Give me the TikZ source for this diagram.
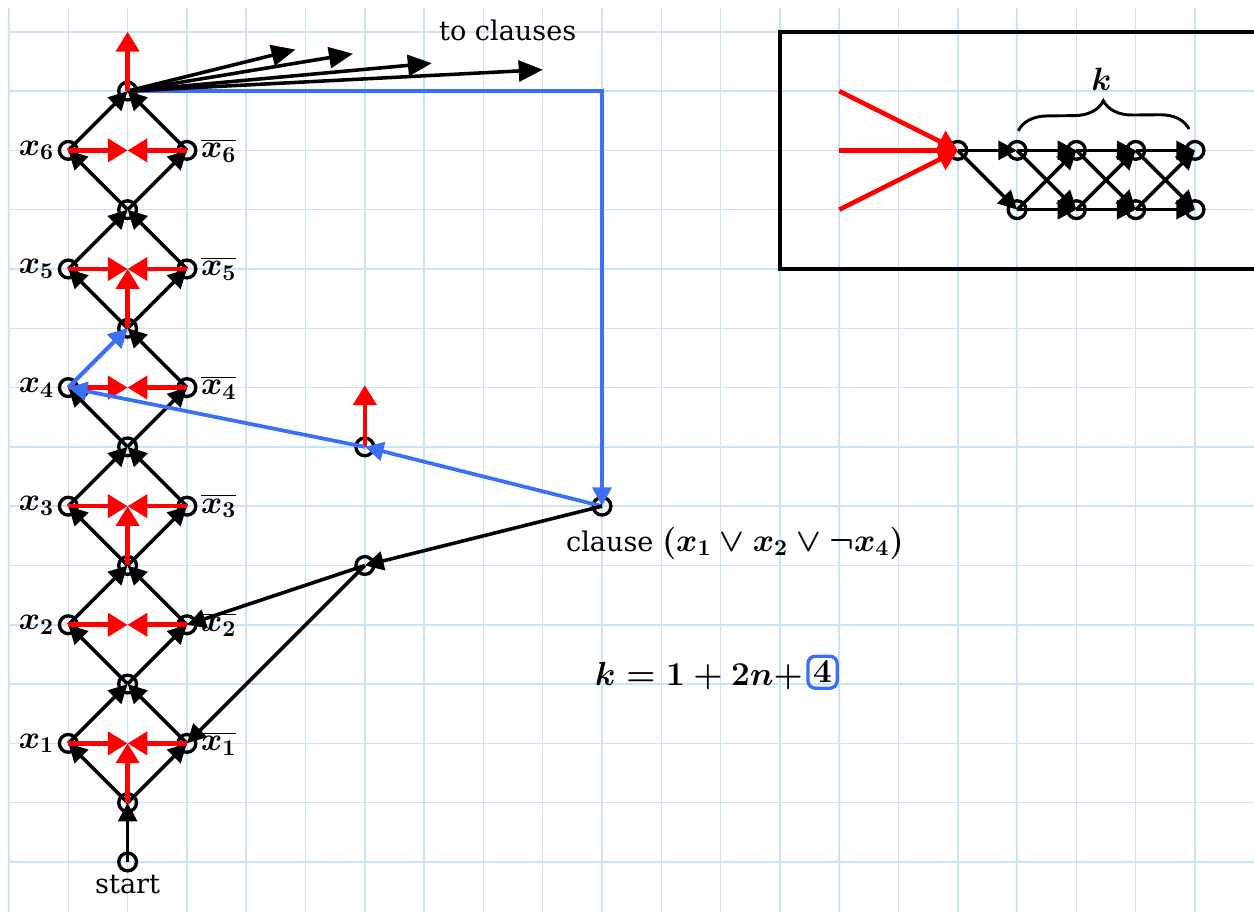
\documentclass[tikz,border=0pt]{standalone}
\usepackage{fix-cm}
\usepackage{fontspec}
\setmainfont{DejaVu Serif}
\usetikzlibrary{arrows.meta,decorations.pathreplacing}
\definecolor{blu}{RGB}{58,112,247}
\definecolor{gridc}{RGB}{200,228,245}
\tikzset{
 v/.style={circle,draw,line width=1.6pt,minimum size=0.3cm,inner sep=0pt},
 bl/.style={line width=1.7pt,-{Triangle[length=9pt,width=9pt]}},
 blbig/.style={line width=1.7pt,-{Triangle[length=11.5pt,width=10pt]}},
 rd/.style={red,line width=2.2pt,-{Triangle[length=9.5pt,width=11pt]}},
 bu/.style={blu,line width=1.8pt,line join=miter,-{Triangle[length=9pt,width=9pt]}},
 mlbl/.style={font=\fontsize{15.5}{18}\selectfont\boldmath,inner sep=1.5pt},
 txt/.style={font=\fontsize{13}{15}\selectfont},
}
\begin{document}
\begin{tikzpicture}
\useasboundingbox (-0.152,-0.843) rectangle (20.995,14.536);
\draw[gridc,line width=0.7pt] (0,-0.85) grid (21,14.4);
% gadget nodes
\node[v] (start) at (2,0) {};
\node[txt,anchor=base] (startlbl) at (2,-0.54) {start};
\node[v] (c0) at (2,1) {};
\foreach \i in {1,...,6}{
  \node[v,label={[mlbl]left:$x_{\i}$}] (x\i) at (1,{2*\i}) {};
  \node[v,label={[mlbl]right:$\overline{x_{\i}}$}] (xb\i) at (3,{2*\i}) {};
  \node[v] (c\i) at (2,{2*\i+1}) {};
  \coordinate (m\i) at (2,{2*\i});
}
\node[v] (cl) at (10,6) {};
\node[v] (q) at (6,7) {};
\node[v] (j) at (6,5) {};
% black gadget edges
\draw[bl] (start.center) -- (c0.center);
\foreach \i in {1,...,6}{
  \pgfmathtruncatemacro{\p}{\i-1}
  \draw[bl] (c\p.center) -- (x\i.center);
  \draw[bl] (c\p.center) -- (xb\i.center);
  \draw[bl] (x\i.center) -- (c\i.center);
  \draw[bl] (xb\i.center) -- (c\i.center);
}
% to clauses
\coordinate (t1) at (4.83,13.7);
\coordinate (t2) at (5.8,13.63);
\coordinate (t3) at (7.13,13.47);
\coordinate (t4) at (9.0,13.36);
% blue path
\coordinate (corner) at (10,13);
\draw[bu] (c6.center) -- (corner) -- (cl.center);
\foreach \t in {1,...,4} \draw[blbig] (c6.center) -- (t\t);
\node[txt] (toc) at (8.41,14.03) {to clauses};
% red
\foreach \i in {1,...,6}{
  \draw[rd] (x\i.center) -- (m\i);
  \draw[rd] (xb\i.center) -- (m\i);
}
\coordinate (top) at (2,14);
\draw[rd] (c0.center) -- (m1);
\draw[rd] (c2.center) -- (m3);
\draw[rd] (c4.center) -- (m5);
\draw[rd] (c6.center) -- (top);
\coordinate (qt) at (6,8.04);
\draw[rd] (q.center) -- (qt);
\draw[bu] (cl.center) -- (q.center);
\draw[bu] (q.center) -- (x4.center);
\draw[bu] (x4.center) -- (c4.center);
\draw[bl] (cl.center) -- (j.center);
\draw[bl] (j.center) -- (xb2.center);
\draw[bl] (j.center) -- (xb1.center);
% labels
\node[txt,anchor=west] (cll) at (9.27,5.38) {clause {\fontsize{15.5}{18}\selectfont\boldmath$(x_1\vee x_2\vee\neg x_4)$}};
\node[draw=blu,line width=1.6pt,rounded corners=3.5pt,inner xsep=2.5pt,inner ysep=2.5pt,font=\fontsize{16}{18}\selectfont\boldmath] (four) at (13.72,3.2) {$4$};
\node[font=\fontsize{16}{18}\selectfont\boldmath,anchor=base east,inner sep=0pt] (kf) at ([xshift=-1.5pt]four.west |- 10,2.98) {$k=1+2n+$};
% inset
\draw[line width=2pt] (13,10) rectangle (21.4,14);
\node[v] (a) at (16,12) {};
\foreach \j in {1,...,4}{
  \node[v] (u\j) at ({16+\j},12) {};
  \node[v] (l\j) at ({16+\j},11) {};
}
\coordinate (r1) at (14,13);
\coordinate (r2) at (14,12);
\coordinate (r3) at (14,11);
\foreach \r in {1,2,3} \draw[rd] (r\r) -- (a.center);
\draw[bl] (a.center) -- (u1.center);
\draw[bl] (a.center) -- (l1.center);
\foreach \j in {1,2,3}{
  \pgfmathtruncatemacro{\n}{\j+1}
  \draw[bl] (u\j.center) -- (u\n.center);
  \draw[bl] (u\j.center) -- (l\n.center);
  \draw[bl] (l\j.center) -- (u\n.center);
  \draw[bl] (l\j.center) -- (l\n.center);
}
\coordinate (b1) at (17.02,12.33);
\coordinate (b2) at (19.9,12.36);
\draw[line width=1.4pt,decorate,decoration={brace,amplitude=14pt}] (b1) -- (b2);
\node[mlbl] (k) at (18.42,13.2) {$k$};
\end{tikzpicture}
\end{document}
